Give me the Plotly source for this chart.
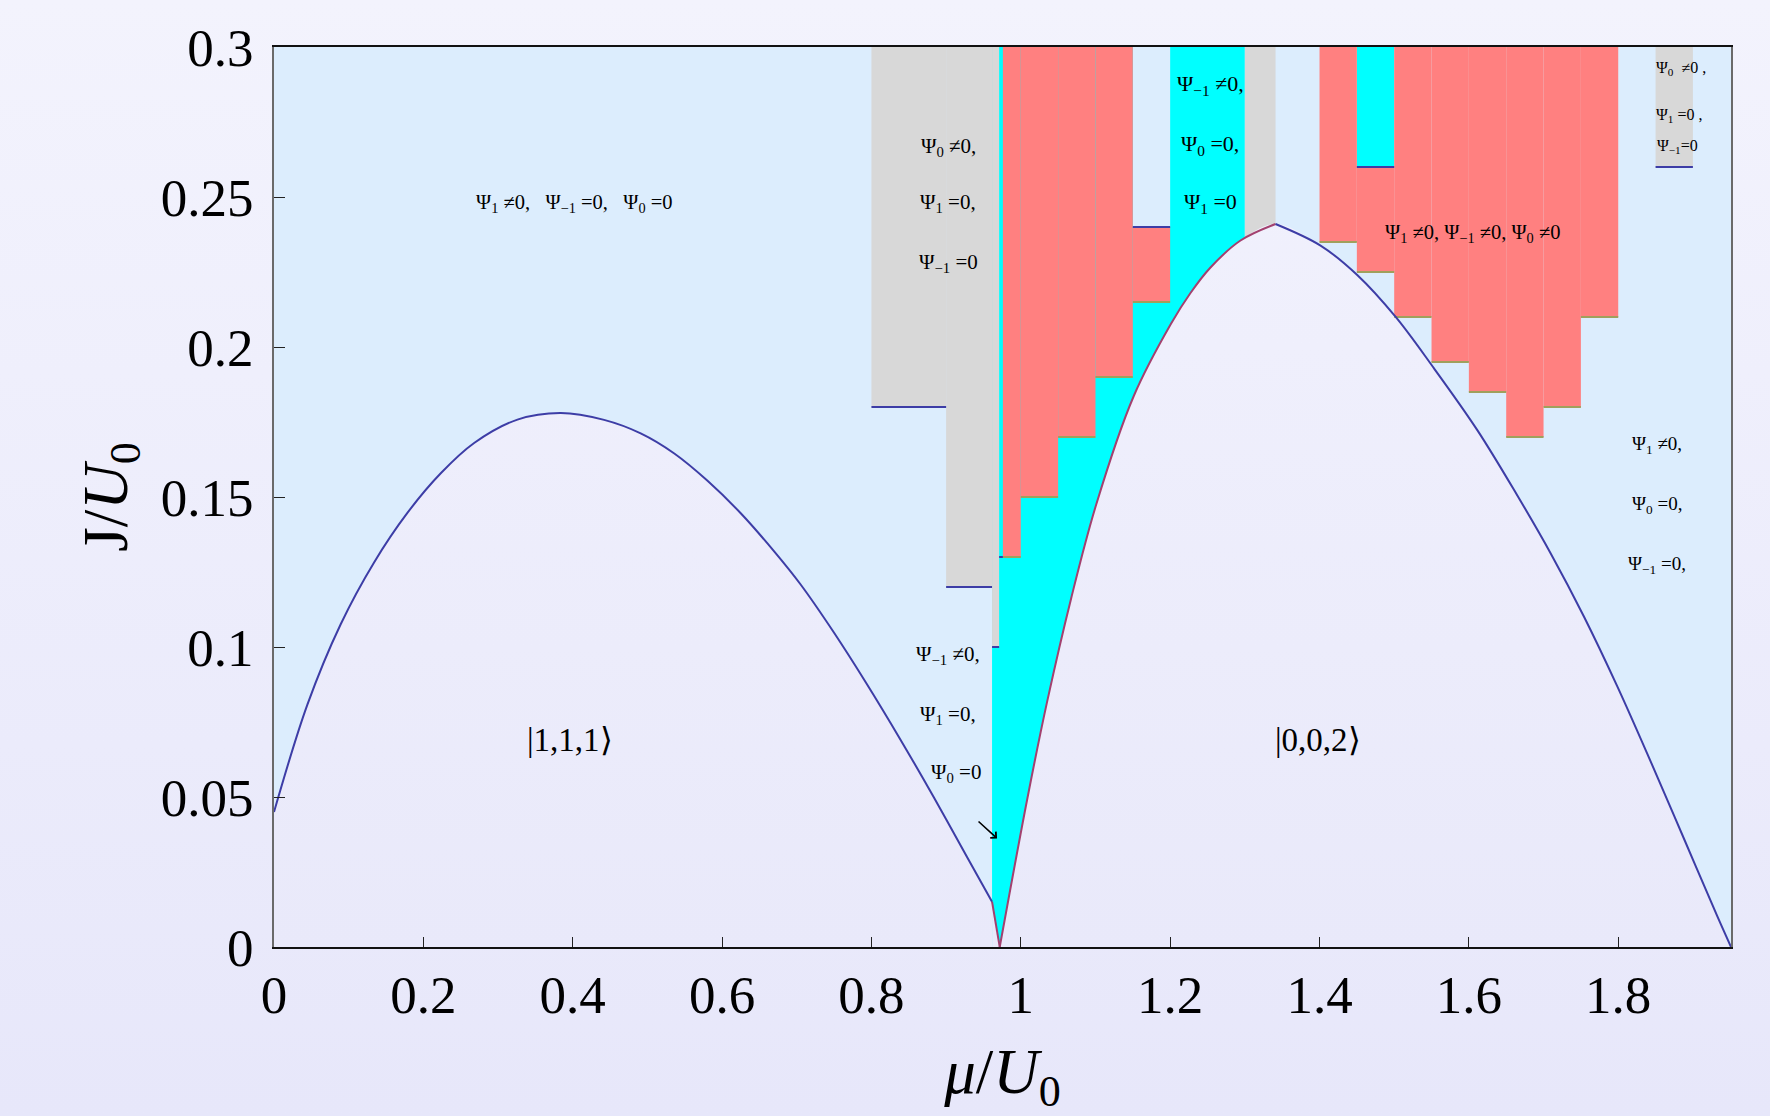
import base64
import plotly.graph_objects as go

# ---------------- data ----------------
lobe1_mu = [0.0, 0.0447, 0.0893, 0.134, 0.1786, 0.2233, 0.268, 0.326, 0.384, 0.442, 0.491,
            0.536, 0.5805, 0.6253, 0.670, 0.7047, 0.7493, 0.794, 0.8387, 0.8833, 0.928, 0.9615]
lobe1_J = [0.045, 0.0808, 0.1076, 0.1282, 0.1447, 0.1579, 0.168, 0.1758, 0.178, 0.1757, 0.1712,
           0.1645, 0.1554, 0.1445, 0.1318, 0.1210, 0.1050, 0.0876, 0.0692, 0.0500, 0.0300, 0.0151]
kink_mu = [0.9615, 0.9718]
kink_J = [0.0151, 0.0]
lobe2L_mu = [0.9718, 1.0084, 1.0352, 1.0674, 1.101, 1.151, 1.2013, 1.2272, 1.254, 1.2942, 1.3411]
lobe2L_J = [0.0, 0.049, 0.0817, 0.1162, 0.1475, 0.1835, 0.2078, 0.2180, 0.2265, 0.2355, 0.241]
lobe2R_mu = [1.3411, 1.4014, 1.4505, 1.5017, 1.5515, 1.6113, 1.6649, 1.7096, 1.7542, 1.7989,
             1.8435, 1.8882, 1.9329, 1.951]
lobe2R_J = [0.241, 0.2338, 0.2240, 0.2101, 0.1935, 0.1723, 0.1505, 0.1312, 0.1101, 0.0868,
            0.0618, 0.0360, 0.0101, 0.0]

MU_MAX = 1.951
J_MAX = 0.3

cyan_x0 = [0.9615, 1.45]
cyan_x1 = [1.30, 1.50]
cyan_lo = [0.0, 0.26]
cyan_hi = [0.30, 0.30]

gray_x0 = [0.80, 0.90, 0.9615, 1.30, 1.85]
gray_x1 = [0.90, 0.9615, 0.971, 1.3411, 1.90]
gray_lo = [0.18, 0.12, 0.10, 0.0, 0.26]
gray_hi = [0.30, 0.30, 0.30, 0.30, 0.30]

sf_x0 = [1.15]
sf_x1 = [1.20]
sf_lo = [0.24]
sf_hi = [0.30]

red_x0 = [0.976, 1.00, 1.05, 1.10, 1.15, 1.40, 1.45, 1.50, 1.55, 1.60, 1.65, 1.70, 1.75]
red_x1 = [1.00, 1.05, 1.10, 1.15, 1.20, 1.45, 1.50, 1.55, 1.60, 1.65, 1.70, 1.75, 1.80]
red_lo = [0.13, 0.15, 0.17, 0.19, 0.215, 0.235, 0.225, 0.21, 0.195, 0.185, 0.17, 0.18, 0.21]
red_hi = [0.30, 0.30, 0.30, 0.30, 0.24, 0.30, 0.26, 0.30, 0.30, 0.30, 0.30, 0.30, 0.30]

blue_seg_x0 = [0.80, 0.90, 0.9615, 0.971, 1.15, 1.45, 1.85]
blue_seg_x1 = [0.90, 0.9615, 0.971, 0.976, 1.20, 1.50, 1.90]
blue_seg_y = [0.18, 0.12, 0.10, 0.13, 0.24, 0.26, 0.26]

olive_seg_x0 = red_x0
olive_seg_x1 = red_x1
olive_seg_y = red_lo

x_ticks = [0, 0.2, 0.4, 0.6, 0.8, 1.0, 1.2, 1.4, 1.6, 1.8]
x_ticklabels = ["0", "0.2", "0.4", "0.6", "0.8", "1", "1.2", "1.4", "1.6", "1.8"]
y_ticks = [0, 0.05, 0.1, 0.15, 0.2, 0.25, 0.3]
y_ticklabels = ["0", "0.05", "0.1", "0.15", "0.2", "0.25", "0.3"]

NB = "\u00a0"
label_text = [
    f"Ψ<sub>1</sub> ≠0,{NB*3}Ψ<sub>−1</sub> =0,{NB*3}Ψ<sub>0</sub> =0",
    "|1,1,1⟩",
    "|0,0,2⟩",
    "Ψ<sub>0</sub> ≠0,", "Ψ<sub>1</sub> =0,", "Ψ<sub>−1</sub> =0",
    "Ψ<sub>−1</sub> ≠0,", "Ψ<sub>0</sub> =0,", "Ψ<sub>1</sub> =0",
    "Ψ<sub>1</sub> ≠0, Ψ<sub>−1</sub> ≠0, Ψ<sub>0</sub> ≠0",
    f"Ψ<sub>0</sub>{NB}{NB}≠0{NB},", f"Ψ<sub>1</sub>{NB}=0{NB},", "Ψ<sub>−1</sub>=0",
    "Ψ<sub>1</sub> ≠0,", "Ψ<sub>0</sub> =0,", "Ψ<sub>−1</sub> =0,",
    "Ψ<sub>−1</sub> ≠0,", "Ψ<sub>1</sub> =0,", "Ψ<sub>0</sub> =0",
]
label_x = [0.402, 0.397, 1.398,
           0.903, 0.903, 0.903,
           1.254, 1.254, 1.254,
           1.6046,
           1.884, 1.881, 1.880,
           1.852, 1.852, 1.852,
           0.903, 0.903, 0.913]
label_y = [0.248, 0.069, 0.069,
           0.2668, 0.2479, 0.2279,
           0.2873, 0.2673, 0.2479,
           0.2379,
           0.2929, 0.2773, 0.2668,
           0.1673, 0.1473, 0.1273,
           0.0973, 0.0773, 0.0579]
label_size = [20.5, 33, 33,
              21, 21, 21,
              22, 22, 22,
              20.5,
              16, 16, 16,
              19, 19, 19,
              21, 21, 21]

arrow_tail = (0.9414, 0.0423)
arrow_head = (0.9682, 0.0362)

# ---------------- styling ----------------
LIGHTBLUE = "#dcedfd"
CYAN = "#00ffff"
GRAY = "#d8d8d8"
RED = "#ff8080"
BLUE_LINE = "#3d3da6"
MAG_LINE = "#a3416f"
OLIVE_LINE = "#a0a05c"
BG_TOP = (243, 243, 253)
BG_BOT = (231, 231, 250)
W, H = 1770, 1116
ML, MR, MT, MB = 274, 39, 47, 169
PW, PH = W - ML - MR, H - MT - MB
FONT = "Liberation Serif, Times New Roman, serif"


def mix(t):
    return "rgb(%d,%d,%d)" % tuple(round(BG_TOP[i] + (BG_BOT[i] - BG_TOP[i]) * t) for i in range(3))


plot_top_col = mix(MT / H)
plot_bot_col = mix((MT + PH) / H)

fig = go.Figure()


def rect(x0, x1, y0, y1, color):
    fig.add_trace(go.Scatter(x=[x0, x1, x1, x0, x0], y=[y0, y0, y1, y1, y0], mode="lines",
                             fill="toself", fillcolor=color, line=dict(width=0),
                             hoverinfo="skip", showlegend=False))


# superfluid background (whole plot window)
rect(0, MU_MAX, 0, J_MAX, LIGHTBLUE)
for a, b, lo, hi in zip(cyan_x0, cyan_x1, cyan_lo, cyan_hi):
    rect(a, b, lo, hi, CYAN)
for a, b, lo, hi in zip(sf_x0, sf_x1, sf_lo, sf_hi):
    rect(a, b, lo, hi, LIGHTBLUE)
for a, b, lo, hi in zip(gray_x0, gray_x1, gray_lo, gray_hi):
    rect(a, b, lo, hi, GRAY)
for a, b, lo, hi in zip(red_x0, red_x1, red_lo, red_hi):
    rect(a, b, lo, hi, RED)

# Mott lobe interiors (gradient matching the page background)
grad = dict(type="vertical", start=0, stop=J_MAX,
            colorscale=[[0, plot_bot_col], [1, plot_top_col]])
for xs, ys, shape in [(lobe1_mu, lobe1_J, "spline"), (kink_mu, kink_J, "linear"),
                      (lobe2L_mu + lobe2R_mu[1:], lobe2L_J + lobe2R_J[1:], "spline")]:
    fig.add_trace(go.Scatter(x=xs, y=ys, mode="lines", fill="tozeroy",
                             fillgradient=grad, fillcolor=plot_bot_col,
                             line=dict(width=0, shape=shape, smoothing=1.0),
                             hoverinfo="skip", showlegend=False))


def segs(x0s, x1s, ys):
    xx, yy = [], []
    for a, b, y in zip(x0s, x1s, ys):
        xx += [a, b, None]
        yy += [y, y, None]
    return xx, yy


bx, by = segs(blue_seg_x0, blue_seg_x1, blue_seg_y)
ox, oy = segs(olive_seg_x0, olive_seg_x1, olive_seg_y)
fig.add_trace(go.Scatter(x=ox, y=oy, mode="lines", line=dict(color=OLIVE_LINE, width=2),
                         hoverinfo="skip", showlegend=False))
fig.add_trace(go.Scatter(x=bx, y=by, mode="lines", line=dict(color=BLUE_LINE, width=2),
                         hoverinfo="skip", showlegend=False))

# boundary lines
fig.add_trace(go.Scatter(x=lobe1_mu, y=lobe1_J, mode="lines",
                         line=dict(color=BLUE_LINE, width=2, shape="spline"),
                         hoverinfo="skip", showlegend=False))
fig.add_trace(go.Scatter(x=kink_mu, y=kink_J, mode="lines",
                         line=dict(color=MAG_LINE, width=2),
                         hoverinfo="skip", showlegend=False))
fig.add_trace(go.Scatter(x=lobe2L_mu, y=lobe2L_J, mode="lines",
                         line=dict(color=MAG_LINE, width=2, shape="spline"),
                         hoverinfo="skip", showlegend=False))
fig.add_trace(go.Scatter(x=lobe2R_mu, y=lobe2R_J, mode="lines",
                         line=dict(color=BLUE_LINE, width=2, shape="spline"),
                         hoverinfo="skip", showlegend=False))

# labels
for t, x, y, s in zip(label_text, label_x, label_y, label_size):
    fig.add_annotation(x=x, y=y, text=t, showarrow=False, xanchor="center", yanchor="middle",
                       font=dict(family=FONT, size=s, color="black"))

fig.add_annotation(x=arrow_head[0], y=arrow_head[1], ax=arrow_tail[0], ay=arrow_tail[1],
                   axref="x", ayref="y", xref="x", yref="y", text="", showarrow=True,
                   arrowhead=4, arrowsize=1.0, arrowwidth=1.6, arrowcolor="black")

# page gradient background
svg = (f'<svg xmlns="http://www.w3.org/2000/svg" width="{W}" height="{H}" '
       f'viewBox="0 0 {W} {H}" preserveAspectRatio="none">'
       '<defs><linearGradient id="g" x1="0" y1="0" x2="0" y2="1">'
       f'<stop offset="0" stop-color="rgb{BG_TOP}"/><stop offset="1" stop-color="rgb{BG_BOT}"/>'
       '</linearGradient></defs>'
       f'<rect x="0" y="0" width="{W}" height="{H}" fill="url(#g)"/></svg>')
src = "data:image/svg+xml;base64," + base64.b64encode(svg.encode()).decode()
fig.add_layout_image(source=src, xref="paper", yref="paper", x=-ML / PW, y=1 + MT / PH,
                     sizex=W / PW, sizey=H / PH, xanchor="left", yanchor="top",
                     sizing="stretch", layer="below")

fig.update_layout(
    width=W, height=H, autosize=False,
    margin=dict(l=ML, r=MR, t=MT, b=MB, pad=0),
    paper_bgcolor="rgb(238,238,251)",
    plot_bgcolor="rgba(0,0,0,0)",
    showlegend=False,
    font=dict(family=FONT, color="black"),
)
fig.update_xaxes(range=[0, MU_MAX], tickvals=x_ticks, ticktext=x_ticklabels,
                 ticks="inside", ticklen=10, tickwidth=1, tickcolor="#222",
                 showline=True, linecolor="#111", linewidth=2, mirror=True,
                 showgrid=False, zeroline=False,
                 tickfont=dict(family=FONT, size=53, color="black"),
                 ticklabelstandoff=0,
                 title=dict(text="<i>μ</i>/<i>U</i><sub>0</sub>",
                            font=dict(family=FONT, size=63, color="black"), standoff=34))
fig.update_yaxes(range=[0, J_MAX], tickvals=y_ticks, ticktext=y_ticklabels,
                 ticks="inside", ticklen=11, tickwidth=1, tickcolor="#222",
                 showline=True, linecolor="#6a6a6a", linewidth=2, mirror=True,
                 showgrid=False, zeroline=False,
                 tickfont=dict(family=FONT, size=53, color="black"),
                 ticklabelstandoff=8,
                 title=dict(text="J/<i>U</i><sub>0</sub>",
                            font=dict(family=FONT, size=63, color="black"), standoff=13))

fig.write_html("out.html",
               config={"displayModeBar": False},
               post_script="document.body.style.margin='0px';"
                           "document.body.style.overflow='hidden';"
                           "document.body.style.background='rgb(238,238,251)';")
